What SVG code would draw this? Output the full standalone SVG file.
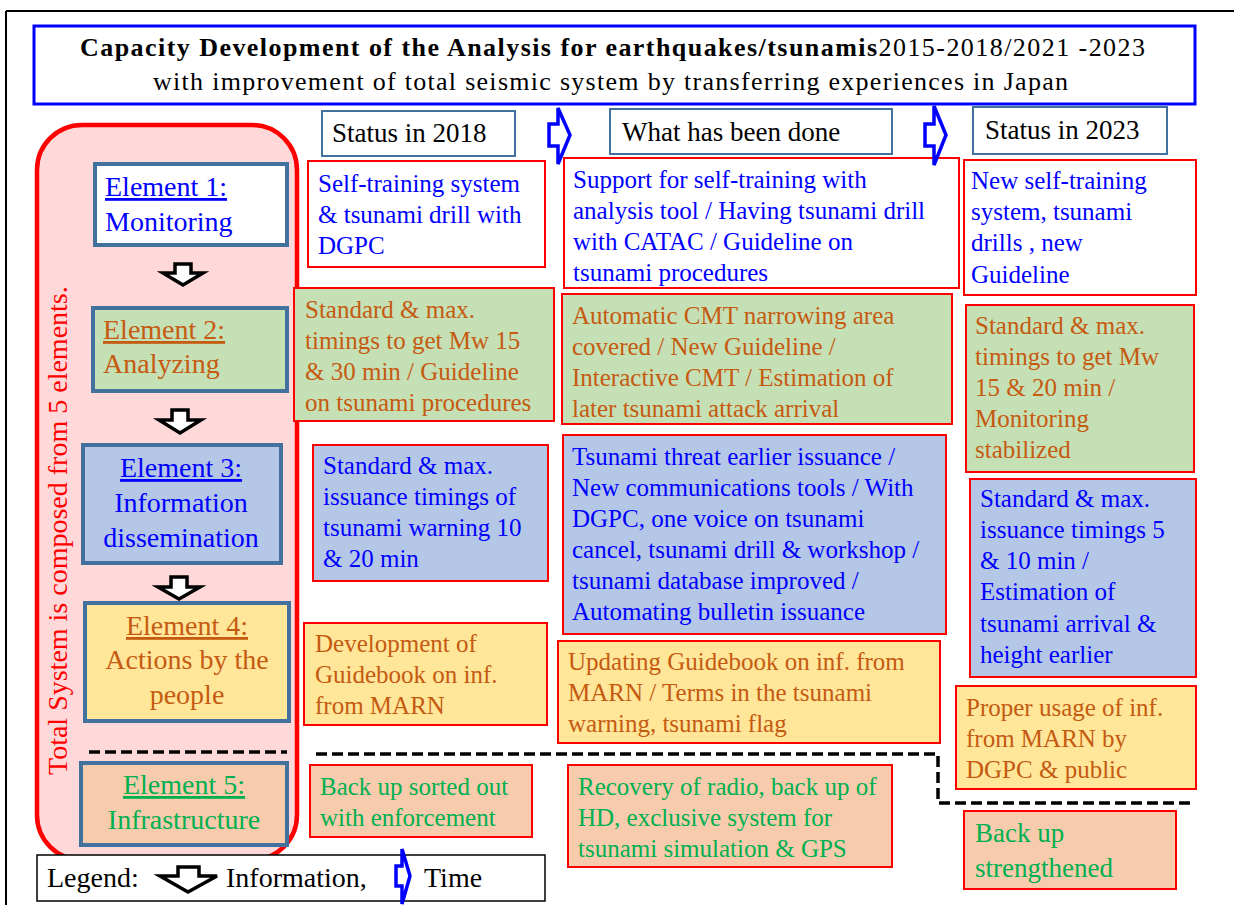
<svg xmlns="http://www.w3.org/2000/svg" width="1234" height="905" viewBox="0 0 1234 905">
<style>
text{font-family:"Liberation Serif","Times New Roman",serif;}
.ct{font-size:25px;}
.el{stroke:#41719C;stroke-width:4;}
.et{font-size:28px;}
.cb{stroke:#FF0000;stroke-width:2;}
.hb{fill:#FFFFFF;stroke:#41719C;stroke-width:2;}
.ht{font-size:27px;fill:#000;}
.w{fill:#FFFFFF;} .g{fill:#C5E0B4;} .b{fill:#B4C7E7;} .y{fill:#FFE699;} .o{fill:#F8CBAD;}
.tb{fill:#0000FF;} .tr{fill:#C55A11;} .tg{fill:#00B050;}
.info{fill:#FFFFFF;stroke:#000;stroke-width:3.5;stroke-linejoin:miter;}
.time{fill:#FFFFFF;stroke:#0000FF;stroke-width:3.5;stroke-linejoin:miter;}
.dash{fill:none;stroke:#000;stroke-width:3.5;stroke-dasharray:11 5;}
</style>

<g id="frame">
<line x1="6" y1="11" x2="1234" y2="11" stroke="#000" stroke-width="2"/>
<line x1="6" y1="11" x2="6" y2="905" stroke="#000" stroke-width="2"/>
</g>

<g id="title">
<rect x="34" y="26" width="1161" height="78" fill="#FFFFFF" stroke="#0000FF" stroke-width="3"/>
<text x="80" y="56" font-size="26" textLength="1065" lengthAdjust="spacing"><tspan font-weight="bold">Capacity Development of the Analysis for earthquakes/tsunamis</tspan><tspan>2015-2018/2021 -2023</tspan></text>
<text x="153" y="90" font-size="26" textLength="915" lengthAdjust="spacing">with improvement  of total seismic system by  transferring experiences in Japan</text>
</g>

<g id="total-system">
<rect x="37" y="125" width="260" height="735" rx="45" ry="45" fill="#FFD9D9" stroke="#FF0000" stroke-width="4.5"/>
<text transform="translate(67,775) rotate(-90)" font-size="28" fill="#FF0000">Total System is composed from 5 elements.</text>
</g>

<g id="element1">
<rect class="el w" x="95" y="164" width="192" height="81"/>
<text class="et tb" x="105" y="196" text-decoration="underline">Element 1:</text>
<text class="et tb" x="105" y="231">Monitoring</text>
</g>
<g id="element2">
<rect class="el g" x="93" y="308" width="194" height="83"/>
<text class="et tr" x="103" y="339" text-decoration="underline">Element 2:</text>
<text class="et tr" x="103" y="373">Analyzing</text>
</g>
<g id="element3">
<rect class="el b" x="83" y="445" width="198" height="118"/>
<text class="et tb" x="181" y="477" text-anchor="middle" text-decoration="underline">Element 3:</text>
<text class="et tb" x="181" y="512" text-anchor="middle">Information</text>
<text class="et tb" x="181" y="547" text-anchor="middle">dissemination</text>
</g>
<g id="element4">
<rect class="el y" x="85" y="603" width="204" height="118"/>
<text class="et tr" x="187" y="635" text-anchor="middle" text-decoration="underline">Element 4:</text>
<text class="et tr" x="187" y="669" text-anchor="middle">Actions by the</text>
<text class="et tr" x="187" y="704" text-anchor="middle">people</text>
</g>
<g id="element5">
<rect class="el o" x="81" y="763" width="206" height="82"/>
<text class="et tg" x="184" y="794" text-anchor="middle" text-decoration="underline">Element 5:</text>
<text class="et tg" x="184" y="829" text-anchor="middle">Infrastructure</text>
</g>

<g id="col-headers">
<g id="hdr-2018"><rect class="hb" x="322" y="111" width="193" height="45"/><text class="ht" x="332" y="142">Status in 2018</text></g>
<g id="hdr-done"><rect class="hb" x="610" y="109" width="282" height="45"/><text class="ht" x="622" y="141">What has been done</text></g>
<g id="hdr-2023"><rect class="hb" x="973" y="107" width="194" height="47"/><text class="ht" x="985" y="139">Status in 2023</text></g>
</g>

<g id="col-2018">
<g id="a1"><rect class="cb w" x="308" y="161" width="237" height="106"/>
<text class="ct tb" x="318" y="192">Self-training system</text><text class="ct tb" x="318" y="223">&amp; tsunami drill with</text><text class="ct tb" x="318" y="254">DGPC</text></g>
<g id="a2"><rect class="cb g" x="294" y="288" width="260" height="133"/>
<text class="ct tr" x="305" y="318">Standard &amp; max.</text><text class="ct tr" x="305" y="349">timings to get Mw 15</text><text class="ct tr" x="305" y="380">&amp; 30 min / Guideline</text><text class="ct tr" x="305" y="411">on tsunami procedures</text></g>
<g id="a3"><rect class="cb b" x="313" y="445" width="235" height="136"/>
<text class="ct tb" x="323" y="474">Standard &amp; max.</text><text class="ct tb" x="323" y="505">issuance timings of</text><text class="ct tb" x="323" y="536">tsunami warning 10</text><text class="ct tb" x="323" y="567">&amp; 20 min</text></g>
<g id="a4"><rect class="cb y" x="304" y="623" width="243" height="102"/>
<text class="ct tr" x="315" y="652">Development of</text><text class="ct tr" x="315" y="683">Guidebook on inf.</text><text class="ct tr" x="315" y="714">from MARN</text></g>
<g id="a5"><rect class="cb o" x="310" y="765" width="222" height="72"/>
<text class="ct tg" x="320" y="795">Back up sorted out</text><text class="ct tg" x="320" y="826">with enforcement</text></g>
</g>

<g id="col-done">
<g id="b1"><rect class="cb w" x="564" y="158" width="395" height="130"/>
<text class="ct tb" x="573" y="188">Support for self-training with</text><text class="ct tb" x="573" y="219">analysis tool / Having tsunami drill</text><text class="ct tb" x="573" y="250">with CATAC / Guideline on</text><text class="ct tb" x="573" y="281">tsunami procedures</text></g>
<g id="b2"><rect class="cb g" x="562" y="294" width="390" height="130"/>
<text class="ct tr" x="572" y="324">Automatic CMT narrowing area</text><text class="ct tr" x="572" y="355">covered / New Guideline /</text><text class="ct tr" x="572" y="386">Interactive CMT / Estimation of</text><text class="ct tr" x="572" y="417">later tsunami attack arrival</text></g>
<g id="b3"><rect class="cb b" x="563" y="435" width="383" height="199"/>
<text class="ct tb" x="572" y="465">Tsunami threat earlier issuance /</text><text class="ct tb" x="572" y="496">New communications tools / With</text><text class="ct tb" x="572" y="527">DGPC, one voice on tsunami</text><text class="ct tb" x="572" y="558">cancel, tsunami drill &amp; workshop /</text><text class="ct tb" x="572" y="589">tsunami database improved /</text><text class="ct tb" x="572" y="620">Automating bulletin issuance</text></g>
<g id="b4"><rect class="cb y" x="558" y="641" width="382" height="102"/>
<text class="ct tr" x="568" y="670">Updating Guidebook on inf. from</text><text class="ct tr" x="568" y="701">MARN / Terms in the tsunami</text><text class="ct tr" x="568" y="732">warning, tsunami flag</text></g>
<g id="b5"><rect class="cb o" x="568" y="765" width="324" height="102"/>
<text class="ct tg" x="578" y="795">Recovery of radio, back up of</text><text class="ct tg" x="578" y="826">HD, exclusive system for</text><text class="ct tg" x="578" y="857">tsunami simulation &amp; GPS</text></g>
</g>

<g id="col-2023">
<g id="c1"><rect class="cb w" x="964" y="160" width="232" height="135"/>
<text class="ct tb" x="971" y="189">New self-training</text><text class="ct tb" x="971" y="220">system, tsunami</text><text class="ct tb" x="971" y="251">drills , new</text><text class="ct tb" x="971" y="283">Guideline</text></g>
<g id="c2"><rect class="cb g" x="966" y="305" width="228" height="167"/>
<text class="ct tr" x="975" y="334">Standard &amp; max.</text><text class="ct tr" x="975" y="365">timings to get Mw</text><text class="ct tr" x="975" y="396">15 &amp; 20 min /</text><text class="ct tr" x="975" y="427">Monitoring</text><text class="ct tr" x="975" y="458">stabilized</text></g>
<g id="c3"><rect class="cb b" x="970" y="479" width="226" height="198"/>
<text class="ct tb" x="980" y="507">Standard &amp; max.</text><text class="ct tb" x="980" y="538">issuance timings 5</text><text class="ct tb" x="980" y="569">&amp; 10 min /</text><text class="ct tb" x="980" y="600">Estimation of</text><text class="ct tb" x="980" y="632">tsunami arrival &amp;</text><text class="ct tb" x="980" y="663">height earlier</text></g>
<g id="c4"><rect class="cb y" x="956" y="686" width="240" height="103"/>
<text class="ct tr" x="966" y="716">Proper usage of inf.</text><text class="ct tr" x="966" y="747">from MARN by</text><text class="ct tr" x="966" y="778">DGPC &amp; public</text></g>
<g id="c5"><rect class="cb o" x="964" y="811" width="212" height="78"/>
<text class="tg" font-size="27" x="975" y="842">Back up</text><text class="tg" font-size="27" x="975" y="877">strengthened</text></g>
</g>

<g id="connectors">
<polygon class="info" points="175,264 191,264 191,273 203,273 183,285 163,273 175,273"/>
<polygon class="info" points="172,410 188,410 188,420 201,420 180,433 159,420 172,420"/>
<polygon class="info" points="171,577 187,577 187,587 200,587 179,599 158,587 171,587"/>
<polygon class="time" points="549,124 558,124 558,108 570,135 558,164 558,146 549,146"/>
<polygon class="time" points="925,124 934,124 934,106 946,135 934,165 934,146 925,146"/>
<line class="dash" x1="89" y1="752" x2="287" y2="752"/>
<polyline class="dash" points="316,754 938,754 938,803 1190,803"/>
</g>

<g id="legend">
<rect x="37" y="855" width="508" height="46" fill="#FFFFFF" stroke="#000" stroke-width="1.5"/>
<text x="47" y="887" font-size="28">Legend:</text>
<polygon class="info" points="178,867 199,867 199,876 217,876 188,892 160,876 178,876"/>
<text x="226" y="887" font-size="28">Information,</text>
<polygon class="time" points="396,866 402,866 402,849 410,876 402,904 402,886 396,886"/>
<text x="424" y="887" font-size="28">Time</text>
</g>
</svg>
